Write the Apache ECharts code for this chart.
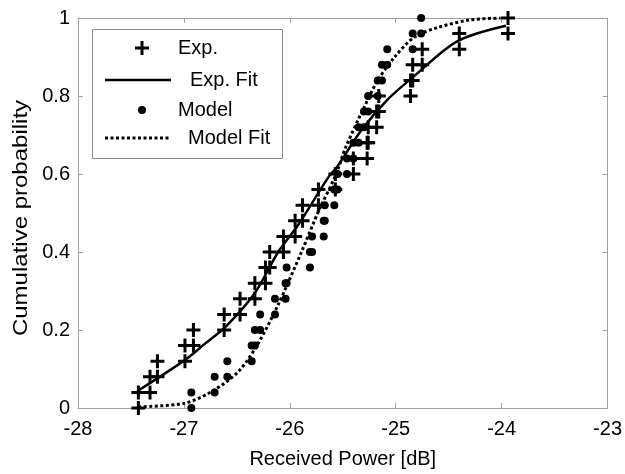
<!DOCTYPE html>
<html>
<head>
<meta charset="utf-8">
<script src="https://cdn.jsdelivr.net/npm/echarts@6/dist/echarts.min.js"></script>
<style>html,body{margin:0;padding:0;background:#fff}#c{width:625px;height:474px}</style>
</head>
<body>
<div id="c"></div>
<script>
// ---- data ----
var xTicks = [-28, -27, -26, -25, -24, -23];
var yTicks = [0, 0.2, 0.4, 0.6, 0.8, 1];

var expX = [-27.43,-27.43,-27.32,-27.32,-27.25,-27.25,-26.99,-26.99,-26.91,-26.91,-26.62,-26.62,-26.47,-26.47,-26.33,-26.33,-26.23,-26.23,-26.19,-26.19,-26.06,-26.06,-25.95,-25.95,-25.88,-25.88,-25.73,-25.73,-25.57,-25.57,-25.40,-25.40,-25.27,-25.27,-25.26,-25.26,-25.18,-25.18,-25.16,-25.16,-24.86,-24.86,-24.84,-24.84,-24.75,-24.75,-24.40,-24.40,-23.94,-23.94];
var expY = [0,0.04,0.04,0.08,0.08,0.12,0.12,0.16,0.16,0.20,0.20,0.24,0.24,0.28,0.28,0.32,0.32,0.36,0.36,0.40,0.40,0.44,0.44,0.48,0.48,0.52,0.52,0.56,0.56,0.60,0.60,0.64,0.64,0.68,0.68,0.72,0.72,0.76,0.76,0.80,0.80,0.84,0.84,0.88,0.88,0.92,0.92,0.96,0.96,1.00];

var modelX = [-26.93,-26.93,-26.71,-26.71,-26.59,-26.59,-26.36,-26.36,-26.33,-26.33,-26.28,-26.28,-26.14,-26.14,-26.04,-26.04,-26.03,-26.03,-25.81,-25.81,-25.79,-25.79,-25.68,-25.68,-25.67,-25.67,-25.58,-25.58,-25.55,-25.55,-25.46,-25.46,-25.40,-25.40,-25.35,-25.35,-25.30,-25.30,-25.26,-25.26,-25.17,-25.17,-25.13,-25.13,-25.08,-25.08,-24.84,-24.84,-24.76,-24.76];
var modelY = [0,0.04,0.04,0.08,0.08,0.12,0.12,0.16,0.16,0.20,0.20,0.24,0.24,0.28,0.28,0.32,0.32,0.36,0.36,0.40,0.40,0.44,0.44,0.48,0.48,0.52,0.52,0.56,0.56,0.60,0.60,0.64,0.64,0.68,0.68,0.72,0.72,0.76,0.76,0.80,0.80,0.84,0.84,0.88,0.88,0.92,0.92,0.96,0.96,1.00];

var expFitX = [-27.43,-27.20,-26.98,-26.80,-26.60,-26.33,-26.11,-25.92,-25.64,-25.55,-25.33,-25.08,-24.83,-24.42,-23.96];
var expFitY = [0.045,0.085,0.125,0.165,0.21,0.295,0.40,0.47,0.59,0.62,0.71,0.79,0.85,0.94,0.98];

var modelFitX = [-27.43,-26.99,-26.72,-26.48,-26.30,-26.11,-25.89,-25.72,-25.57,-25.47,-25.30,-25.17,-25.01,-24.83,-24.61,-24.30,-24.01];
var modelFitY = [0.003,0.0125,0.045,0.095,0.165,0.265,0.40,0.51,0.595,0.67,0.77,0.84,0.90,0.95,0.975,0.995,1.0];

var seriesNames = ['Exp.', 'Exp. Fit', 'Model', 'Model Fit'];
var xName = 'Received Power [dB]';
var yName = 'Cumulative probability';

function zip(a, b) { return a.map(function (v, i) { return [v, b[i]]; }); }

var FONT = '"Liberation Sans", Arial, sans-serif';
var PLUS = 'path://M5.5,0H8.5V5.5H14V8.5H8.5V14H5.5V8.5H0V5.5H5.5Z';
var axisGray = '#a0a0a0';

function xAx(pos, showLabel) {
  return {
    type: 'value', position: pos, min: xTicks[0], max: xTicks[xTicks.length - 1], interval: 1,
    axisLine: { show: true, onZero: false, lineStyle: { color: axisGray, width: 1 } },
    axisTick: { show: true, inside: true, length: 5, lineStyle: { color: axisGray } },
    axisLabel: { show: showLabel, color: '#000', fontSize: 20, fontFamily: FONT, margin: 11 },
    splitLine: { show: false },
    name: showLabel ? xName : '', nameLocation: 'middle', nameGap: 41,
    nameTextStyle: { color: '#000', fontSize: 20, fontFamily: FONT }
  };
}
function yAx(pos, showLabel) {
  return {
    type: 'value', position: pos, min: yTicks[0], max: yTicks[yTicks.length - 1], interval: 0.2,
    axisLine: { show: true, onZero: false, lineStyle: { color: axisGray, width: 1 } },
    axisTick: { show: true, inside: true, length: 5, lineStyle: { color: axisGray } },
    axisLabel: { show: showLabel, color: '#000', fontSize: 20, fontFamily: FONT, margin: 8 },
    splitLine: { show: false }
  };
}

function plusPts(cx, cy, h, t) {
  return [[cx - t, cy - h], [cx + t, cy - h], [cx + t, cy - t], [cx + h, cy - t], [cx + h, cy + t], [cx + t, cy + t],
          [cx + t, cy + h], [cx - t, cy + h], [cx - t, cy + t], [cx - h, cy + t], [cx - h, cy - t], [cx - t, cy - t]];
}
function legText(x, y, s) {
  return { type: 'text', x: x, y: y, z: 11,
    style: { text: s, fill: '#000', font: '20px ' + FONT, textVerticalAlign: 'middle', verticalAlign: 'middle' } };
}

var chart = echarts.init(document.getElementById('c'), null, { renderer: 'canvas' });
chart.setOption({
  animation: false,
  backgroundColor: '#fff',
  grid: { left: 78, top: 18, width: 534, height: 400, containLabel: false },
  xAxis: [xAx('bottom', true), xAx('top', false)],
  yAxis: [yAx('left', true), yAx('right', false)],
  series: [
    { name: seriesNames[1], type: 'line', data: zip(expFitX, expFitY), showSymbol: false, symbol: 'none', smooth: 0.3,
      lineStyle: { color: '#000', width: 2.5 }, z: 2 },
    { name: seriesNames[3], type: 'line', data: zip(modelFitX, modelFitY), showSymbol: false, symbol: 'none', smooth: 0.3,
      lineStyle: { color: '#000', width: 3, type: [3, 2.5] }, z: 2 },
    { name: seriesNames[0], type: 'scatter', data: zip(expX, expY), symbol: PLUS, symbolSize: 14,
      itemStyle: { color: '#000', opacity: 1 }, z: 3 },
    { name: seriesNames[2], type: 'scatter', data: zip(modelX, modelY), symbol: 'circle', symbolSize: 8,
      itemStyle: { color: '#000', opacity: 1 }, z: 3 }
  ],
  graphic: [
    { type: 'text', x: 21, y: 218, rotation: Math.PI / 2, scaleX: 1.2, scaleY: 1, z: 5,
      style: { text: yName, fill: '#000', font: '20px ' + FONT, textAlign: 'center', textVerticalAlign: 'middle', align: 'center', verticalAlign: 'middle' } },
    { type: 'rect', z: 10, shape: { x: 92.5, y: 29.5, width: 190, height: 129 },
      style: { fill: '#fff', stroke: '#8c8c8c', lineWidth: 1 } },
    { type: 'polygon', z: 11, shape: { points: plusPts(142, 48, 7, 1.5) }, style: { fill: '#000' } },
    legText(178, 48, seriesNames[0]),
    { type: 'line', z: 11, shape: { x1: 105, y1: 80, x2: 171, y2: 80 }, style: { stroke: '#000', lineWidth: 2.5 } },
    legText(190, 80, seriesNames[1]),
    { type: 'circle', z: 11, shape: { cx: 142, cy: 110, r: 4 }, style: { fill: '#000' } },
    legText(178, 110, seriesNames[2]),
    { type: 'line', z: 11, shape: { x1: 105, y1: 138, x2: 171, y2: 138 }, style: { stroke: '#000', lineWidth: 3, lineDash: [3, 2.5] } },
    legText(188, 138, seriesNames[3])
  ]
});
</script>
</body>
</html>
